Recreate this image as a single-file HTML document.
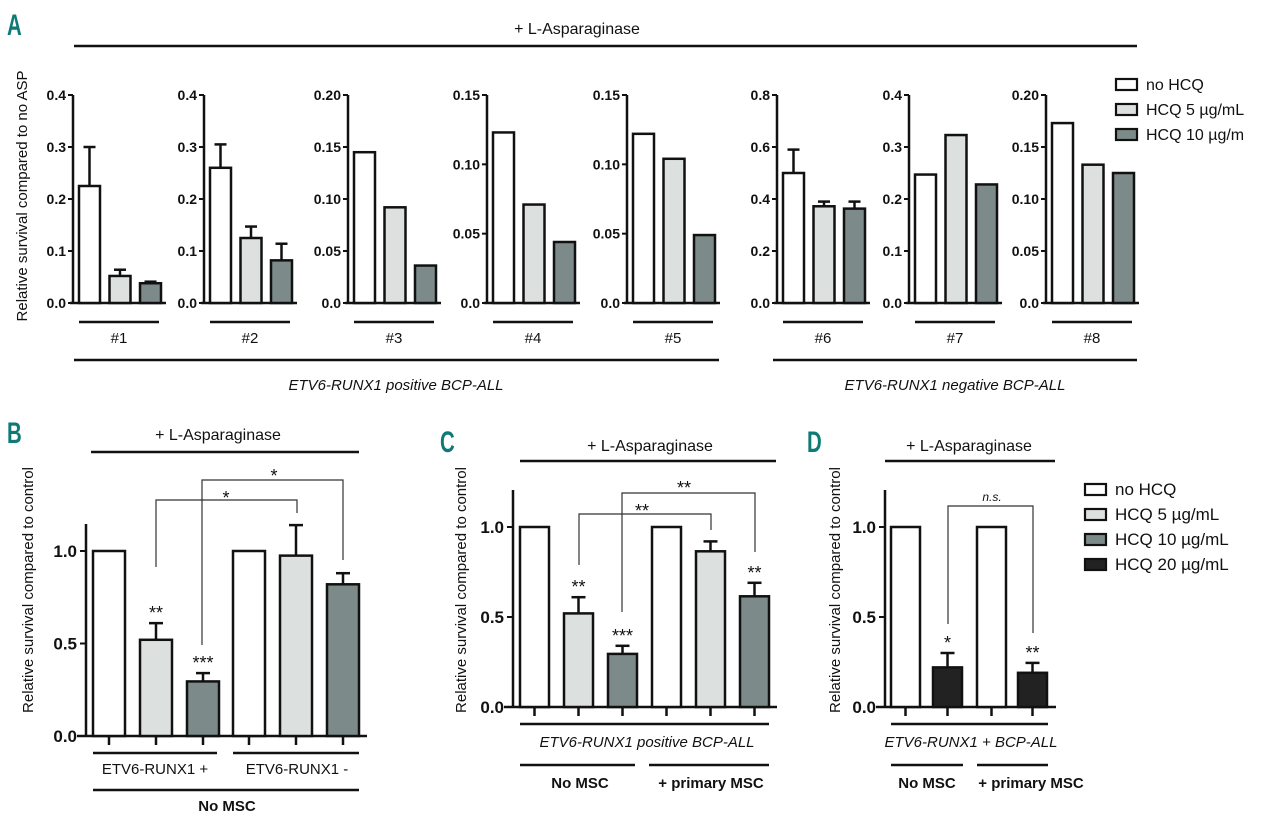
<!DOCTYPE html>
<html><head><meta charset="utf-8"><style>
html,body{margin:0;padding:0;background:#fff;}
svg{display:block;font-family:"Liberation Sans",Arial,sans-serif;}
.pl{font-family:"Liberation Sans",sans-serif;font-weight:bold;fill:#0e7a78;font-size:30px;}
</style></head><body>
<svg id="fig" width="1280" height="822" viewBox="0 0 1280 822" xmlns="http://www.w3.org/2000/svg"></svg>
<script>
// ---- Panel A data ----
const aPatients = ["#1","#2","#3","#4","#5","#6","#7","#8"];
const aNoHCQ = [0.225,0.26,0.145,0.123,0.122,0.50,0.247,0.173];
const aHCQ5 = [0.052,0.125,0.092,0.071,0.104,0.372,0.323,0.133];
const aHCQ10 = [0.038,0.082,0.036,0.044,0.049,0.363,0.228,0.125];
const aErrNo = [0.30,0.305,null,null,null,0.59,null,null];
const aErr5 = [0.064,0.147,null,null,null,0.39,null,null];
const aErr10 = [0.041,0.114,null,null,null,0.39,null,null];
const aYMax = [0.4,0.4,0.2,0.15,0.15,0.8,0.4,0.2];
const aTickStep = [0.1,0.1,0.05,0.05,0.05,0.2,0.1,0.05];
const aTickDec = [1,1,2,2,2,1,1,2];
// ---- Panel B data ----
const bValues = [1.0,0.52,0.295,1.0,0.975,0.82];
const bErr = [null,0.61,0.34,null,1.14,0.88];
const bStars = ["","**","***","","",""];
// ---- Panel C data ----
const cValues = [1.0,0.52,0.295,1.0,0.865,0.615];
const cErr = [null,0.61,0.34,null,0.92,0.69];
const cStars = ["","**","***","","","**"];
// ---- Panel D data ----
const dValues = [1.0,0.22,1.0,0.19];
const dErr = [null,0.30,null,0.245];
const dStars = ["","*","","**"];
const bcTicks = [0.0,0.5,1.0];

const svg = document.getElementById('fig');
const NS = "http://www.w3.org/2000/svg";
const COL = {w:"#ffffff", l:"#dce1df", m:"#7c8a89", d:"#222222"};
function mk(tag, attrs, parent){
  const e = document.createElementNS(NS, tag);
  for (const k in attrs) e.setAttribute(k, attrs[k]);
  (parent||svg).appendChild(e);
  return e;
}
function line(x1,y1,x2,y2,w,name,p){
  const e = mk('line',{x1:x1,y1:y1,x2:x2,y2:y2,stroke:'#111','stroke-width':w||2.5},p);
  
  
  return e;
}
function text(x,y,s,opts,name){
  const e = mk('text',Object.assign({x:x,y:y,'text-anchor':'middle','font-size':15,fill:'#111'},opts||{}));
  e.textContent = s;
  
  
  return e;
}
function bar(x,w,y0,y1,fill,name){
  const e = mk('rect',{x:x,y:y1,width:w,height:y0-y1,fill:fill,stroke:'#111','stroke-width':2.5});
  
  
  return e;
}
function errbar(cx,yTop,yEnd,cap,name){
  const g = mk('g',{});
  
  
  mk('line',{x1:cx,y1:yTop,x2:cx,y2:yEnd,stroke:'#111','stroke-width':2.5},g);
  mk('line',{x1:cx-cap,y1:yTop,x2:cx+cap,y2:yTop,stroke:'#111','stroke-width':2.5},g);
}
function plabel(x,y,s,name){
  text(0,0,s,{class:'pl','font-size':30,'text-anchor':'start',transform:'translate('+x+','+y+') scale(0.68,1)'},name);
}

// Panel labels
plabel(7,35,"A",'panel-label-a');
plabel(7,443,"B",'panel-label-b');
plabel(440,452,"C",'panel-label-c');
plabel(807,452,"D",'panel-label-d');

// ---- Panel A ----
text(577,34,"+ L-Asparaginase",{'font-size':16},'panel-a-header');
line(74,46,1137,46,2.5,'panel-a-header-line');
const axA = [73,204,348,487,627,777,909,1046];
const A0 = 303, ATOP = 95;
for (let i=0;i<aPatients.length;i++){
  const X = axA[i];
  const ys = v => A0 - (v/aYMax[i])*(A0-ATOP);
  line(X,A0+1,X,ATOP,2.5,'y-axis-'+(i+1));
  line(X-3,A0,X+93,A0,2.5,'x-axis-'+(i+1));
  const nT = Math.round(aYMax[i]/aTickStep[i]);
  for (let t=0;t<=nT;t++){
    const v = t*aTickStep[i];
    const y = ys(v);
    line(X-5,y,X,y,2,'y-tick');
    const lab = t===0 ? "0.0" : v.toFixed(aTickDec[i]);
    text(X-7,y+5,lab,{'text-anchor':'end','font-weight':'bold','font-size':14},'y-tick-label');
  }
  const series = [[aNoHCQ,aErrNo,COL.w],[aHCQ5,aErr5,COL.l],[aHCQ10,aErr10,COL.m]];
  series.forEach((s,j)=>{
    const bx = X+6+j*30.5;
    const v = s[0][i];
    if (s[1][i]!=null) errbar(bx+10.5,ys(s[1][i]),ys(v),6,'error-bar-'+(i+1)+'-'+j);
    bar(bx,21,A0,ys(v),s[2],'bar-p'+(i+1)+'-s'+j);
  });
  line(X+6,322,X+86,322,2.5,'patient-line-'+(i+1));
  text(X+46,343,aPatients[i],{'font-size':15},'patient-label-'+(i+1));
}
line(74,360,719,360,2.5,'positive-group-line');
line(773,360,1137,360,2.5,'negative-group-line');
text(396,390,"ETV6-RUNX1 positive BCP-ALL",{'font-style':'italic','font-size':15},'positive-group-label');
text(955,390,"ETV6-RUNX1 negative BCP-ALL",{'font-style':'italic','font-size':15},'negative-group-label');
text(0,0,"Relative survival compared to no ASP",{'font-size':15,transform:'translate(27,196) rotate(-90)'},'panel-a-y-title');
// legend A
const legA = ["no HCQ","HCQ 5 \u00b5g/mL","HCQ 10 \u00b5g/m"];
const legAc = [COL.w,COL.l,COL.m];
legA.forEach((s,i)=>{
  const y = 84+i*25;
  const r = mk('rect',{x:1116,y:y-5,width:21,height:11,fill:legAc[i],stroke:'#111','stroke-width':2.2});
  
  
  text(1146,y+6,s,{'text-anchor':'start','font-size':16},'legend-a-entry');
});

// generic panel for B/C/D
function panel(cfg){
  const ys = v => cfg.y0 - v*(cfg.y0-cfg.y1);
  line(cfg.ax,cfg.y0+1,cfg.ax,cfg.top,2.5,cfg.id+'-y-axis');
  line(cfg.ax-9,cfg.y0,cfg.xEnd,cfg.y0,2.5,cfg.id+'-x-axis');
  bcTicks.forEach(v=>{
    const y = ys(v);
    line(cfg.ax-6,y,cfg.ax,y,2,cfg.id+'-y-tick');
    text(cfg.ax-9,y+6,v.toFixed(1),{'text-anchor':'end','font-weight':'bold','font-size':17},cfg.id+'-y-tick-label');
  });
  cfg.values.forEach((v,i)=>{
    const bx = cfg.bx[i], w = cfg.bw, cx = bx+w/2;
    if (cfg.err[i]!=null) errbar(cx,ys(cfg.err[i]),ys(v),7,cfg.id+'-error-bar-'+i);
    bar(bx,w,cfg.y0,ys(v),cfg.fills[i],cfg.id+'-bar-'+i);
    line(cx,cfg.y0,cx,cfg.y0+9,2.5,cfg.id+'-x-tick');
    if (cfg.stars[i]){
      const top = cfg.err[i]!=null?ys(cfg.err[i]):ys(v);
      text(cx,top-4,cfg.stars[i],{'font-size':18},cfg.id+'-significance');
    }
  });
  text(0,0,"Relative survival compared to control",{'font-size':15,transform:'translate('+cfg.tx+','+cfg.ty+') rotate(-90)'},cfg.id+'-y-title');
}
function bracket(x1,yd1,x2,yd2,ytop,label,lx,ly,opts,name){
  const p = mk('path',{d:'M'+x1+' '+yd1+' V'+ytop+' H'+x2+' V'+yd2,fill:'none',stroke:'#333','stroke-width':1.2});
  
  
  text(lx,ly,label,Object.assign({'font-size':18},opts||{}),name+'-label');
}

// ---- Panel B ----
text(218,440,"+ L-Asparaginase",{'font-size':16},'panel-b-header');
line(91,452,359,452,2.5,'panel-b-header-line');
panel({id:'panel-b',ax:86,y0:736,y1:551,top:524,xEnd:367,values:bValues,err:bErr,stars:bStars,
  bx:[93,140,187,233,280,327],bw:32,fills:[COL.w,COL.l,COL.m,COL.w,COL.l,COL.m],tx:33,ty:590});
bracket(156,567,297,513,500,"*",226,504,{},'panel-b-bracket-1');
bracket(202,645,343,560,480,"*",274,482,{},'panel-b-bracket-2');
line(93,753,217,753,2.5,'b-group-line-pos');
line(233,753,359,753,2.5,'b-group-line-neg');
text(155,774,"ETV6-RUNX1 +",{'font-size':15},'b-group-label-pos');
text(297,774,"ETV6-RUNX1 -",{'font-size':15},'b-group-label-neg');
line(93,790,359,790,2.5,'b-msc-line');
text(227,811,"No MSC",{'font-size':15,'font-weight':'bold'},'b-msc-label');

// ---- Panel C ----
text(650,451,"+ L-Asparaginase",{'font-size':16},'panel-c-header');
line(520,461,776,461,2.5,'panel-c-header-line');
panel({id:'panel-c',ax:513,y0:707,y1:527,top:490,xEnd:777,values:cValues,err:cErr,stars:cStars,
  bx:[520,564,608,652,696,740],bw:29,fills:[COL.w,COL.l,COL.m,COL.w,COL.l,COL.m],tx:466,ty:590});
bracket(579,565,711,530,514,"**",642,517,{},'panel-c-bracket-1');
bracket(622,612,755,552,493,"**",684,494,{},'panel-c-bracket-2');
line(520,724,769,724,2.5,'c-group-line');
text(647,747,"ETV6-RUNX1 positive BCP-ALL",{'font-style':'italic','font-size':15},'c-group-label');
line(520,765,635,765,2.5,'c-nomsc-line');
line(649,765,769,765,2.5,'c-msc-line');
text(580,788,"No MSC",{'font-size':15,'font-weight':'bold'},'c-nomsc-label');
text(711,788,"+ primary MSC",{'font-size':15,'font-weight':'bold'},'c-msc-label');

// ---- Panel D ----
text(969,451,"+ L-Asparaginase",{'font-size':16},'panel-d-header');
line(885,461,1055,461,2.5,'panel-d-header-line');
panel({id:'panel-d',ax:885,y0:707,y1:527,top:490,xEnd:1056,values:dValues,err:dErr,stars:dStars,
  bx:[891,933,977,1018],bw:29,fills:[COL.w,COL.d,COL.w,COL.d],tx:840,ty:590});
bracket(948,624,1033,633,506,"n.s.",992,501,{'font-size':12,'font-style':'italic'},'panel-d-bracket');
line(891,724,1048,724,2.5,'d-group-line');
text(971,747,"ETV6-RUNX1 + BCP-ALL",{'font-style':'italic','font-size':15},'d-group-label');
line(891,765,963,765,2.5,'d-nomsc-line');
line(977,765,1048,765,2.5,'d-msc-line');
text(927,788,"No MSC",{'font-size':15,'font-weight':'bold'},'d-nomsc-label');
text(1031,788,"+ primary MSC",{'font-size':15,'font-weight':'bold'},'d-msc-label');
// legend D
const legD = ["no HCQ","HCQ 5 \u00b5g/mL","HCQ 10 \u00b5g/mL","HCQ 20 \u00b5g/mL"];
const legDc = [COL.w,COL.l,COL.m,COL.d];
legD.forEach((s,i)=>{
  const y = 489+i*25;
  const r = mk('rect',{x:1085,y:y-5,width:21,height:11,fill:legDc[i],stroke:'#111','stroke-width':2.2});
  
  
  text(1115,y+6,s,{'text-anchor':'start','font-size':17},'legend-d-entry');
});
</script>
</body></html>
